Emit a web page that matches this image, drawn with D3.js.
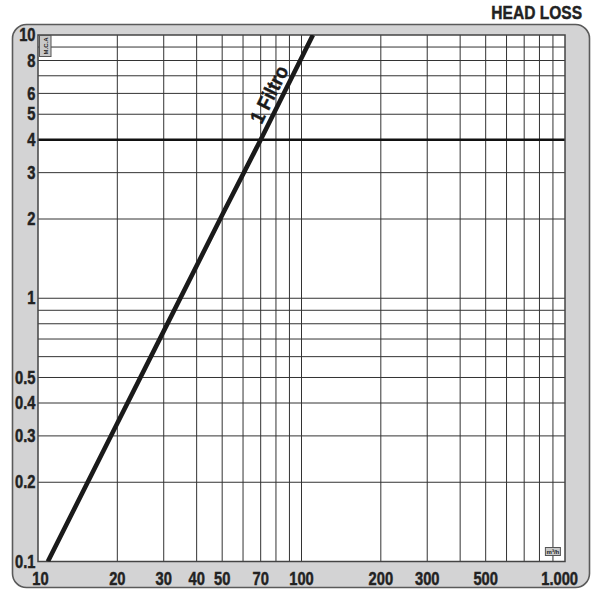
<!DOCTYPE html>
<html>
<head>
<meta charset="utf-8">
<script src="https://cdn.jsdelivr.net/npm/d3@7/dist/d3.min.js"></script>
<style>
  html, body { margin: 0; padding: 0; background: #ffffff; }
  svg { display: block; }
  text { font-family: "Liberation Sans", Arial, sans-serif; font-weight: bold; fill: #222; }
  text.heavy { stroke: #222; stroke-width: 0.45px; }
</style>
</head>
<body>
<script>
// ---- data ----
const title = "HEAD LOSS";
const seriesName = "1 Filtro";
const flowValues = [10.9, 20, 30, 50, 70, 110.5];      // m3/h
const headValues = [0.1, 0.335, 0.75, 2.07, 4.0, 10];  // m.c.a
const xGrid = [20, 30, 40, 50, 60, 70, 80, 90, 100, 200, 300, 400, 500, 600, 700, 800, 900];
const yGrid = [0.2, 0.3, 0.4, 0.5, 0.6, 0.7, 0.8, 0.9, 1, 2, 3, 4, 5, 6, 7, 8, 9];
const xTickValues = [10, 20, 30, 40, 50, 70, 100, 200, 300, 500, 1000];
const xTickLabels = ["10", "20", "30", "40", "50", "70", "100", "200", "300", "500", "1.000"];
const yTickValues = [10, 8, 6, 5, 4, 3, 2, 1, 0.5, 0.4, 0.3, 0.2, 0.1];
const yTickLabels = ["10", "8", "6", "5", "4", "3", "2", "1", "0.5", "0.4", "0.3", "0.2", "0.1"];
const refLine = 4;
const yUnit = "M.C.A";
const xUnit = "m³/h";

// ---- layout ----
const W = 600, H = 591;
const plot = { left: 38, right: 565, top: 35, bottom: 561.5 };
const SX = 0.84; // horizontal condensing of the bold labels

const svg = d3.select("body").append("svg").attr("width", W).attr("height", H);

const x = d3.scaleLog().domain([10, 1000]).range([plot.left, plot.right]);
const y = d3.scaleLog().domain([0.1, 10]).range([plot.bottom, plot.top]);

function ctext(parent, px, py, str, size, anchor) {
  const gg = parent.append("g").attr("transform", `translate(${px},${py}) scale(${SX},1)`);
  return gg.append("text").attr("class", "heavy").attr("text-anchor", anchor).style("font-size", size + "px").text(str);
}

// panel
svg.append("rect")
  .attr("x", 12.5).attr("y", 24.5).attr("width", 577).attr("height", 563)
  .attr("rx", 14).attr("ry", 14)
  .attr("fill", "#d3d3d4").attr("stroke", "#5a5a5a").attr("stroke-width", 1.6);

// plot background
svg.append("rect")
  .attr("x", plot.left).attr("y", plot.top)
  .attr("width", plot.right - plot.left).attr("height", plot.bottom - plot.top)
  .attr("fill", "#ffffff");

// title
ctext(svg, 582, 18.5, title, 18.5, "end");

// grid
const g = svg.append("g");
g.selectAll("line.vx").data(xGrid).join("line")
  .attr("x1", d => x(d)).attr("x2", d => x(d))
  .attr("y1", plot.top).attr("y2", plot.bottom)
  .attr("stroke", "#333").attr("stroke-width", 1);
g.selectAll("line.hy").data(yGrid).join("line")
  .attr("y1", d => y(d)).attr("y2", d => y(d))
  .attr("x1", plot.left).attr("x2", plot.right)
  .attr("stroke", "#333").attr("stroke-width", 1);

// reference line at 4
g.append("line")
  .attr("x1", plot.left).attr("x2", plot.right)
  .attr("y1", y(refLine)).attr("y2", y(refLine))
  .attr("stroke", "#111").attr("stroke-width", 2.4);

// plot border
svg.append("rect")
  .attr("x", plot.left).attr("y", plot.top)
  .attr("width", plot.right - plot.left).attr("height", plot.bottom - plot.top)
  .attr("fill", "none").attr("stroke", "#444").attr("stroke-width", 1.5);

// clip
svg.append("clipPath").attr("id", "clip").append("rect")
  .attr("x", plot.left).attr("y", plot.top)
  .attr("width", plot.right - plot.left).attr("height", plot.bottom - plot.top);

const pts = flowValues.map((f, i) => [f, headValues[i]]);
svg.append("path")
  .attr("clip-path", "url(#clip)")
  .attr("d", d3.line().x(d => x(d[0])).y(d => y(d[1]))(pts))
  .attr("fill", "none").attr("stroke", "#1a1a1a").attr("stroke-width", 4.6)
  .attr("stroke-linecap", "butt");

// series label along line
{
  const p0 = pts[0], p1 = pts[pts.length - 1];
  const ang = Math.atan2(y(p1[1]) - y(p0[1]), x(p1[0]) - x(p0[0])) * 180 / Math.PI;
  const lf = 83;
  const t = (Math.log10(lf) - Math.log10(p0[0])) / (Math.log10(p1[0]) - Math.log10(p0[0]));
  const lh = Math.pow(10, Math.log10(p0[1]) + t * (Math.log10(p1[1]) - Math.log10(p0[1])));
  svg.append("g")
    .attr("transform", `translate(${x(lf)},${y(lh)}) rotate(${ang}) scale(0.92,1)`)
    .append("text")
    .attr("class", "heavy")
    .attr("x", 0).attr("y", -5.5)
    .attr("text-anchor", "middle").style("font-size", "20px")
    .style("fill", "#1a1a1a").style("stroke", "#1a1a1a")
    .text(seriesName);
}

// x tick labels
xTickValues.forEach((d, i) => {
  const px = d === 1000 ? x(d) + 13 : x(d) + (d === 10 ? 2.5 : 0);
  ctext(svg, px, 584.5, xTickLabels[i], 17.5, d === 1000 ? "end" : "middle");
});

// y tick labels
yTickValues.forEach((d, i) => {
  ctext(svg, 35.5, y(d) + 6.2, yTickLabels[i], 17.5, "end");
});

// unit boxes
const ub = svg.append("g").attr("transform", `translate(${plot.left + 1.5},${plot.top + 0.5})`);
ub.append("rect").attr("width", 11.5).attr("height", 21)
  .attr("fill", "#c8c8c8").attr("stroke", "#555").attr("stroke-width", 1);
ub.append("text").attr("transform", "translate(8.3,10.5) rotate(-90)")
  .attr("text-anchor", "middle").style("font-size", "6px").attr("fill", "#333")
  .text(yUnit);

const xb = svg.append("g").attr("transform", `translate(${x(850) - 1},${plot.bottom - 14})`);
xb.append("rect").attr("width", 15).attr("height", 8)
  .attr("fill", "#c8c8c8").attr("stroke", "#555").attr("stroke-width", 1);
xb.append("text").attr("x", 7.5).attr("y", 6)
  .attr("text-anchor", "middle").style("font-size", "6px").attr("fill", "#333")
  .text(xUnit);
</script>
</body>
</html>
